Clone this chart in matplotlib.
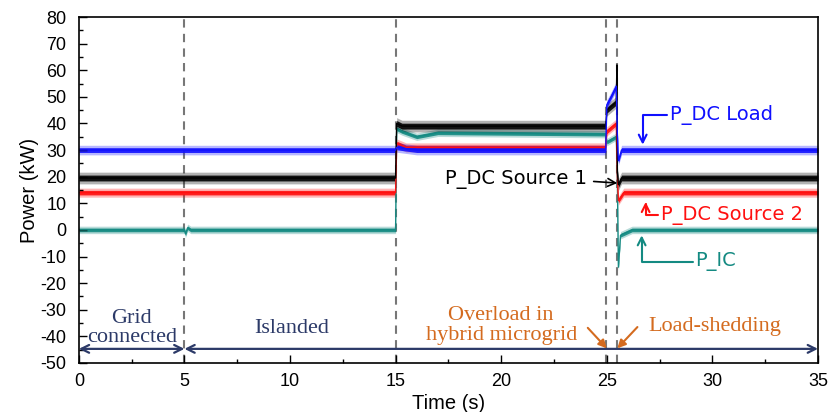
import matplotlib.pyplot as plt
import numpy as np
from matplotlib.ticker import MultipleLocator

plt.rcParams['axes.unicode_minus'] = False

# mean trace levels (time in s, power in kW)
t_load = [0, 15, 15.05, 16, 24.95, 25.0, 25.2, 25.45, 25.5, 25.55, 25.7, 35]
p_load = [30, 30, 31, 30, 30, 47, 50, 54, 36, 26, 30, 30]

t_src1 = [0, 15, 15.05, 15.3, 24.95, 25.0, 25.45, 25.48, 25.5, 25.55, 25.7, 35]
p_src1 = [19.5, 19.5, 40, 39, 39, 45, 48, 62, 22, 17, 19.5, 19.5]

t_src2 = [0, 15, 15.05, 15.5, 24.95, 25.0, 25.45, 25.5, 25.55, 25.8, 35]
p_src2 = [14, 14, 32.5, 31, 31, 37, 40, 20, 11, 14, 14]

t_ic = [0, 5, 5.05, 5.15, 5.3, 15, 15.05, 15.3, 16, 17, 24.95, 25.0, 25.45,
        25.5, 25.55, 25.65, 26.2, 35]
p_ic = [0, 0, -1.5, 0.8, 0, 0, 38, 37, 35, 36.5, 36, 33, 35,
        20, -14, -2, 0, 0]

# approximate half-width of the measurement ripple on each trace (kW)
ripple = [1.8, 2.2, 1.7, 1.4]

events = [5, 15, 24.95, 25.5]

blue = '#1010ff'
black = '#000000'
red = '#ff1010'
teal = '#148a82'
navy = '#2c3a68'
orange = '#d46b1f'

fig = plt.figure(figsize=(8.3, 4.12), dpi=100)
ax = fig.add_axes([0.095, 0.119, 0.8905, 0.8397])

traces = [(t_ic, p_ic, teal, ripple[3]),
          (t_src2, p_src2, red, ripple[2]),
          (t_src1, p_src1, black, ripple[1]),
          (t_load, p_load, blue, ripple[0])]

for t, p, c, w in traces:
    t = np.array(t)
    p = np.array(p)
    ax.fill_between(t, p - w, p + w, color=c, alpha=0.3, lw=0)
    ax.fill_between(t, p - 0.5 * w, p + 0.5 * w, color=c, alpha=0.9, lw=0)
    ax.plot(t, p, color=c, lw=1.0)

for x in events:
    ax.axvline(x, color='#777777', lw=1.5, ls=(0, (4, 3)), zorder=0)

ax.set_xlim(0, 35)
ax.set_ylim(-50, 80)
ax.xaxis.set_major_locator(MultipleLocator(5))
ax.xaxis.set_minor_locator(MultipleLocator(2.5))
ax.yaxis.set_major_locator(MultipleLocator(10))
ax.yaxis.set_minor_locator(MultipleLocator(5))
ax.tick_params(which='both', direction='in', labelsize=13)
ax.tick_params(which='major', length=6, width=1)
ax.tick_params(which='minor', length=3, width=1)
ax.tick_params(axis='x', pad=7)
ax.tick_params(axis='y', pad=9)
for lab in ax.get_xticklabels() + ax.get_yticklabels():
    lab.set_fontfamily('Liberation Sans')
for s in ax.spines.values():
    s.set_linewidth(1.2)

ax.set_xlabel('Time (s)', fontsize=14.5, family='Liberation Sans', labelpad=3)
ax.set_ylabel('Power (kW)', fontsize=14.5, family='Liberation Sans', labelpad=1)

# trace labels with bracket arrows
lbl = dict(fontsize=14, family='DejaVu Sans', va='center', ha='left')
ax.annotate('P_DC Load', xy=(26.7, 32), xytext=(28.0, 43.2), color=blue,
            arrowprops=dict(arrowstyle='->', color=blue, lw=1.5, relpos=(0, 0.5),
                            connectionstyle='angle,angleA=0,angleB=90,rad=0',
                            shrinkA=0, shrinkB=0), **lbl)
ax.annotate('P_DC Source 2', xy=(26.84, 10.5), xytext=(27.55, 5.6), color=red,
            arrowprops=dict(arrowstyle='->', color=red, lw=1.5, relpos=(0, 0.5),
                            connectionstyle='angle,angleA=0,angleB=90,rad=0',
                            shrinkA=0, shrinkB=0), **lbl)
ax.annotate('P_IC', xy=(26.65, -2), xytext=(29.2, -12), color=teal,
            arrowprops=dict(arrowstyle='->', color=teal, lw=1.5, relpos=(0, 0.5),
                            connectionstyle='angle,angleA=0,angleB=90,rad=0',
                            shrinkA=0, shrinkB=0), **lbl)
ax.annotate('P_DC Source 1', xy=(25.5, 17.6), xytext=(24.05, 19.1), color=black,
            fontsize=14, family='DejaVu Sans', va='center', ha='right',
            arrowprops=dict(arrowstyle='->', color=black, lw=1.2, relpos=(1, 0.4),
                            shrinkA=3, shrinkB=0))

# operating-mode arrows along the bottom
for a, b in [(0, 5), (5, 35)]:
    ax.annotate('', xy=(a, -44.7), xytext=(b, -44.7),
                arrowprops=dict(arrowstyle='<->', color=navy, lw=1.6,
                                shrinkA=0, shrinkB=0, mutation_scale=14))

serif = dict(family='Liberation Serif', fontsize=16, ha='center', va='center')
ax.text(2.5, -33.4, 'Grid', color=navy, **serif)
ax.text(2.5, -40.6, 'connected', color=navy, **serif)
ax.text(10.1, -37.2, 'Islanded', color=navy, **serif)
ax.text(20.0, -32.3, 'Overload in', color=orange, **serif)
ax.text(20.0, -39.5, 'hybrid microgrid', color=orange, **serif)
ax.text(30.1, -36.3, 'Load-shedding', color=orange, **serif)
ax.annotate('', xy=(25.0, -44.5), xytext=(24.1, -36.8),
            arrowprops=dict(arrowstyle='-|>', color=orange, lw=1.5,
                            shrinkA=0, shrinkB=0, mutation_scale=12))
ax.annotate('', xy=(25.5, -44.5), xytext=(26.45, -36.5),
            arrowprops=dict(arrowstyle='-|>', color=orange, lw=1.5,
                            shrinkA=0, shrinkB=0, mutation_scale=12))

fig.savefig('out.png', dpi=100)
